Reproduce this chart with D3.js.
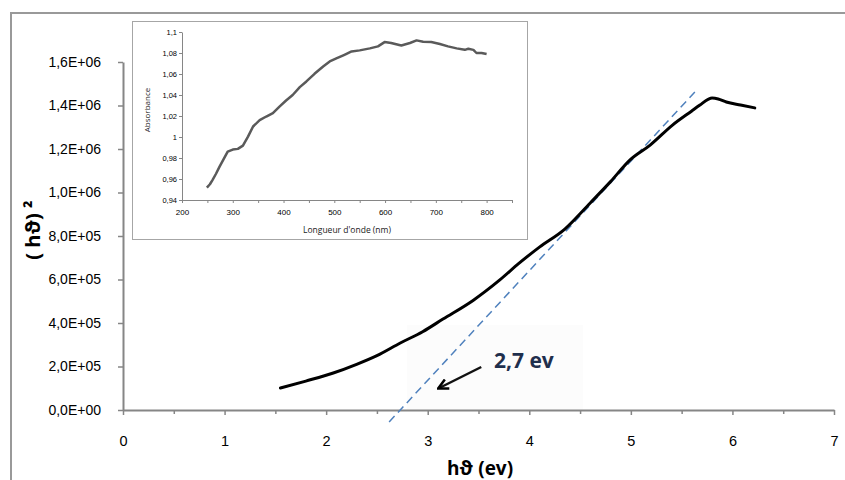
<!DOCTYPE html>
<html lang="fr">
<head>
  <meta charset="UTF-8">
  <script src="https://d3js.org/d3.v7.min.js"></script>
  <style>
    body {
      margin: 0;
      background: #fff;
      overflow: hidden;
    }
    svg {
      display: block;
      font-family: "Open Sans", "Noto Sans", "DejaVu Sans", sans-serif;
    }
    .axis path, .axis line {
      stroke: #868686;
    }
    .axis text {
      fill: #000;
    }
  </style>
</head>
<body>

<svg width="845" height="480"></svg>

<script>
  // main curve: (h nu)^2 vs photon energy
  const energy = [1.55, 1.8, 2.07, 2.3, 2.5, 2.73, 2.95, 3.15, 3.45, 3.71, 3.9, 4.1, 4.35, 4.6, 4.8, 4.99, 5.19, 5.41, 5.6, 5.68, 5.76, 5.8, 5.86, 5.94, 6.08, 6.22];
  const hv2 = [1.01e5, 1.33e5, 1.70e5, 2.1e5, 2.5e5, 3.08e5, 3.6e5, 4.18e5, 5.05e5, 5.98e5, 6.75e5, 7.49e5, 8.32e5, 9.52e5, 1.05e6, 1.149e6, 1.218e6, 1.31e6, 1.375e6, 1.402e6, 1.428e6, 1.434e6, 1.43e6, 1.416e6, 1.402e6, 1.389e6];

  // tangent (extrapolation to the gap)
  const tangentX = [2.62, 5.63];
  const tangentY = [-5.5e4, 1.462e6];
  const gapValue = 2.7;
  const gapLabel = '2,7 ev';

  // axis ticks
  const xTicks = [0, 1, 2, 3, 4, 5, 6, 7];
  const xMinorTicks = [0.5, 1.5, 2.5, 3.5, 4.5, 5.5, 6.5];
  const yTicks = [0, 2e5, 4e5, 6e5, 8e5, 1e6, 1.2e6, 1.4e6, 1.6e6];

  // inset: absorbance spectrum
  const wavelength = [249, 255, 260, 267, 274, 282, 290, 300, 310, 320, 330, 340, 353, 366, 379, 392, 405, 418, 432, 445, 461, 478, 491, 504, 520, 534, 550, 570, 586, 599, 612, 632, 649, 662, 675, 691, 708, 724, 741, 757, 764, 774, 780, 790, 800];
  const absorbance = [0.9518, 0.955, 0.959, 0.965, 0.9718, 0.979, 0.986, 0.988, 0.9887, 0.9918, 1.0004, 1.01, 1.016, 1.0195, 1.0227, 1.029, 1.0348, 1.04, 1.0475, 1.0529, 1.0602, 1.0672, 1.072, 1.0748, 1.0783, 1.0815, 1.0825, 1.0844, 1.0863, 1.0904, 1.0895, 1.0872, 1.0895, 1.092, 1.0907, 1.0904, 1.0885, 1.0863, 1.0844, 1.083, 1.084, 1.083, 1.080, 1.080, 1.079];
  const insetXTicks = [200, 300, 400, 500, 600, 700, 800];
  const insetXMinor = [250, 350, 450, 550, 650, 750, 850];
  const insetYTicks = [0.94, 0.96, 0.98, 1, 1.02, 1.04, 1.06, 1.08, 1.1];

  const svg = d3.select('svg');

  // outer chart frame (left and top edges visible)
  svg.append('path')
    .attr('d', 'M11,480 L11,13 L845,13')
    .attr('fill', 'none')
    .attr('stroke', '#999')
    .attr('stroke-width', 2);

  const x = d3.scaleLinear().domain([0, 7]).range([123, 834]);
  const y = d3.scaleLinear().domain([0, 1.6e6]).range([410, 62]);

  // excel like scientific format: 1,6E+06
  function sci(v) {
    if (v === 0) return '0,0E+00';
    const e = Math.floor(Math.log10(v));
    const m = v / Math.pow(10, e);
    return m.toFixed(1).replace('.', ',') + 'E+' + String(e).padStart(2, '0');
  }

  // faint background of the pasted annotation
  svg.append('rect')
    .attr('x', 407).attr('y', 325)
    .attr('width', 176).attr('height', 85)
    .attr('fill', '#fcfcfc');

  // axes
  const yAxis = svg.append('g')
    .attr('class', 'axis')
    .attr('transform', `translate(${x(0)},0)`)
    .call(d3.axisLeft(y).tickValues(yTicks).tickFormat(sci).tickSize(5).tickSizeOuter(0));
  yAxis.select('.domain').attr('stroke-width', 2);
  yAxis.selectAll('line').attr('stroke-width', 1.5);
  yAxis.selectAll('text').attr('font-size', 14).attr('x', -22);

  const xAxis = svg.append('g')
    .attr('class', 'axis')
    .attr('transform', `translate(0,${y(0)})`)
    .call(d3.axisBottom(x).tickValues(xTicks).tickFormat(d3.format('d')).tickSize(5).tickSizeOuter(0));
  xAxis.select('.domain').attr('stroke-width', 2);
  xAxis.selectAll('line').attr('stroke-width', 1.5);
  xAxis.selectAll('text').attr('font-size', 14.5).attr('y', 26);

  svg.append('g')
    .attr('class', 'axis')
    .attr('transform', `translate(0,${y(0)})`)
    .call(d3.axisBottom(x).tickValues(xMinorTicks).tickSize(4).tickFormat(''))
    .call(g => g.select('.domain').remove())
    .selectAll('line').attr('stroke-width', 1.5);

  // axis titles
  svg.append('text')
    .attr('x', 480).attr('y', 475)
    .attr('text-anchor', 'middle')
    .attr('font-size', 19).attr('font-weight', 'bold')
    .text('hϑ (ev)');

  svg.append('text')
    .attr('transform', 'translate(40,230) rotate(-90)')
    .attr('text-anchor', 'middle')
    .attr('font-size', 20).attr('font-weight', 'bold')
    .text('(  hϑ) ²');

  // tangent line
  const tangent = tangentX.map((d, i) => [d, tangentY[i]]);
  svg.append('path')
    .datum(tangent)
    .attr('d', d3.line().x(d => x(d[0])).y(d => y(d[1])))
    .attr('fill', 'none')
    .attr('stroke', '#4f81bd')
    .attr('stroke-width', 1.5)
    .attr('stroke-dasharray', '8,5');

  // main curve
  const main = energy.map((d, i) => [d, hv2[i]]);
  svg.append('path')
    .datum(main)
    .attr('d', d3.line().x(d => x(d[0])).y(d => y(d[1])).curve(d3.curveMonotoneX))
    .attr('fill', 'none')
    .attr('stroke', '#000')
    .attr('stroke-width', 3)
    .attr('stroke-linejoin', 'round')
    .attr('stroke-linecap', 'round');

  // annotation arrow + label
  svg.append('defs').append('marker')
    .attr('id', 'head')
    .attr('viewBox', '0 0 10 10')
    .attr('refX', 8).attr('refY', 5)
    .attr('markerWidth', 5).attr('markerHeight', 5)
    .attr('orient', 'auto')
    .append('path')
    .attr('d', 'M1,1 L9,5 L1,9')
    .attr('fill', 'none')
    .attr('stroke', '#000')
    .attr('stroke-width', 2);

  const ax = x(gapValue);
  svg.append('line')
    .attr('x1', ax + 84).attr('y1', 367)
    .attr('x2', ax + 42).attr('y2', 388)
    .attr('stroke', '#111')
    .attr('stroke-width', 2.5)
    .attr('marker-end', 'url(#head)');

  svg.append('text')
    .attr('x', 494).attr('y', 368)
    .attr('font-size', 21).attr('font-weight', 'bold')
    .attr('fill', '#1f2f4d')
    .text(gapLabel);

  // inset chart
  svg.append('rect')
    .attr('x', 132.5).attr('y', 21.5)
    .attr('width', 395).attr('height', 218)
    .attr('fill', '#fff')
    .attr('stroke', '#a6a6a6')
    .attr('stroke-width', 1);

  const ix = d3.scaleLinear().domain([200, 850]).range([182, 512]);
  const iy = d3.scaleLinear().domain([0.94, 1.1]).range([200, 32]);
  const fmt = v => String(+v.toFixed(2)).replace('.', ',');

  const iyAxis = svg.append('g')
    .attr('class', 'axis')
    .attr('transform', `translate(${ix(200)},0)`)
    .call(d3.axisLeft(iy).tickValues(insetYTicks).tickFormat(fmt).tickSize(3).tickSizeOuter(0));
  iyAxis.selectAll('text').attr('font-size', 7.5).attr('fill', '#222').attr('x', -5);

  const ixAxis = svg.append('g')
    .attr('class', 'axis')
    .attr('transform', `translate(0,${iy(0.94)})`)
    .call(d3.axisBottom(ix).tickValues(insetXTicks).tickSize(3).tickSizeOuter(0));
  ixAxis.selectAll('text').attr('font-size', 8).attr('fill', '#222').attr('y', 9);

  svg.append('g')
    .attr('class', 'axis')
    .attr('transform', `translate(0,${iy(0.94)})`)
    .call(d3.axisBottom(ix).tickValues(insetXMinor).tickSize(3).tickFormat(''))
    .call(g => g.select('.domain').remove());

  svg.append('text')
    .attr('x', 347).attr('y', 233)
    .attr('text-anchor', 'middle')
    .attr('font-size', 8.5).attr('fill', '#222')
    .text("Longueur d'onde (nm)");

  svg.append('text')
    .attr('transform', 'translate(150,110) rotate(-90)')
    .attr('text-anchor', 'middle')
    .attr('font-size', 8).attr('fill', '#222')
    .text('Absorbance');

  const spectrum = wavelength.map((d, i) => [d, absorbance[i]]);
  svg.append('path')
    .datum(spectrum)
    .attr('d', d3.line().x(d => ix(d[0])).y(d => iy(d[1])))
    .attr('fill', 'none')
    .attr('stroke', '#5a5a5a')
    .attr('stroke-width', 2.5)
    .attr('stroke-linejoin', 'round');
</script>

</body>
</html>
